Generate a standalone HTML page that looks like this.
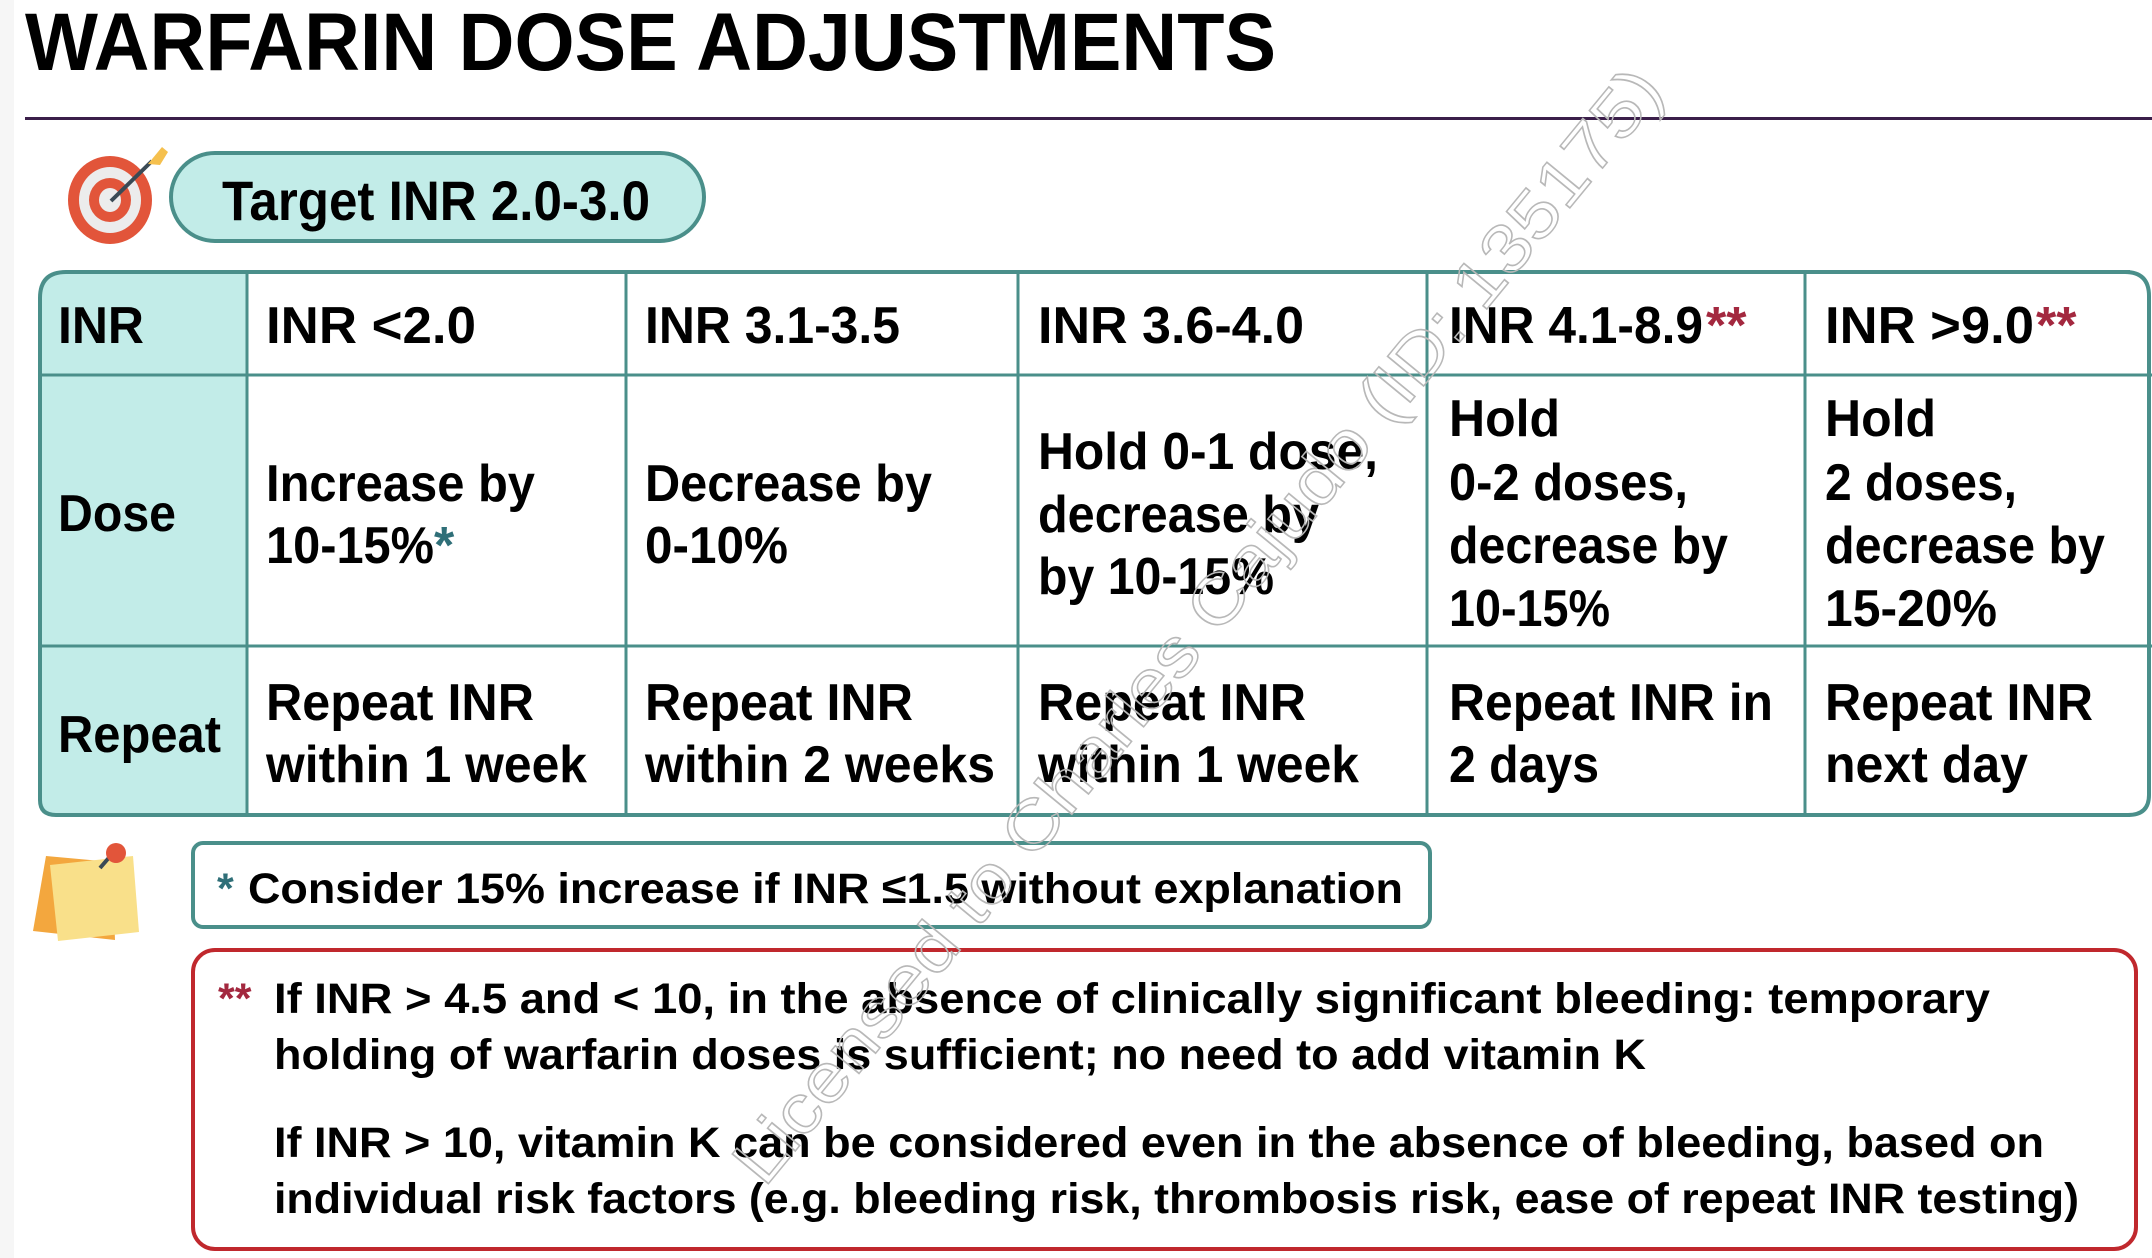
<!DOCTYPE html>
<html><head><meta charset="utf-8"><style>
html,body{margin:0;padding:0;background:#fff;}
svg{display:block;}
text{font-family:"Liberation Sans",sans-serif;font-weight:bold;fill:#000;}
</style></head><body>
<svg width="2152" height="1258" viewBox="0 0 2152 1258" xmlns="http://www.w3.org/2000/svg">
<rect width="2152" height="1258" fill="#fff"/>
<rect width="14" height="1258" fill="#f6f6f6"/>
<text x="25" y="70" font-size="82" textLength="1251" lengthAdjust="spacingAndGlyphs">WARFARIN DOSE ADJUSTMENTS</text>
<rect x="25" y="117" width="2127" height="3" fill="#3b1f4a"/>
<!-- target icon -->
<ellipse cx="110" cy="200" rx="42" ry="44" fill="#e2553a"/>
<ellipse cx="110" cy="200" rx="31" ry="33" fill="#ececec"/>
<ellipse cx="110" cy="200" rx="21" ry="22" fill="#e2553a"/>
<ellipse cx="110" cy="200" rx="11" ry="12" fill="#ececec"/>
<line x1="111" y1="201" x2="152" y2="161" stroke="#3a4a55" stroke-width="4"/>
<polygon points="148,164 162,147 168,152 160,165" fill="#f5c04e"/>
<rect x="171" y="153" width="533" height="88" rx="44" fill="#c2ece8" stroke="#4a8f8a" stroke-width="4"/>
<text x="222" y="220" font-size="56" textLength="428" lengthAdjust="spacingAndGlyphs">Target INR 2.0-3.0</text>
<!-- table -->
<path d="M247,273 L66,273 Q41,273 41,298 L41,800 Q41,815 56,815 L247,815 Z" fill="#c2ece8"/>
<path d="M2130,272 L66,272 Q40,272 40,298 L40,800 Q40,815 56,815 L2130,815" fill="none" stroke="#4a8f8a" stroke-width="4"/>
<path d="M2125,272 Q2149,272 2149,296 L2149,795 Q2149,815 2128,815" fill="none" stroke="#4a8f8a" stroke-width="4"/>
<g stroke="#4a8f8a" stroke-width="3">
<line x1="40" y1="375" x2="2152" y2="375"/>
<line x1="40" y1="646" x2="2152" y2="646"/>
<line x1="247" y1="272" x2="247" y2="815"/>
<line x1="626" y1="272" x2="626" y2="815"/>
<line x1="1018" y1="272" x2="1018" y2="815"/>
<line x1="1427" y1="272" x2="1427" y2="815"/>
<line x1="1805" y1="272" x2="1805" y2="815"/>
</g>
<g font-size="52">
<text x="58" y="343" textLength="86" lengthAdjust="spacingAndGlyphs">INR</text>
<text x="266" y="343" textLength="210" lengthAdjust="spacingAndGlyphs">INR &lt;2.0</text>
<text x="645" y="343" textLength="255" lengthAdjust="spacingAndGlyphs">INR 3.1-3.5</text>
<text x="1038" y="343" textLength="266" lengthAdjust="spacingAndGlyphs">INR 3.6-4.0</text>
<text x="1449" y="343" textLength="254" lengthAdjust="spacingAndGlyphs">INR 4.1-8.9</text>
<text x="1706" y="343" style="fill:#a3283f">**</text>
<text x="1825" y="343" textLength="209" lengthAdjust="spacingAndGlyphs">INR &gt;9.0</text>
<text x="2036" y="343" style="fill:#a3283f">**</text>

<text x="58" y="531" textLength="118" lengthAdjust="spacingAndGlyphs">Dose</text>
<text x="58" y="752" textLength="163" lengthAdjust="spacingAndGlyphs">Repeat</text>

<text x="266" y="501" textLength="269" lengthAdjust="spacingAndGlyphs">Increase by</text>
<text x="266" y="563" textLength="168" lengthAdjust="spacingAndGlyphs">10-15%</text>
<text x="434" y="563" style="fill:#2f6f78">*</text>
<text x="645" y="501" textLength="287" lengthAdjust="spacingAndGlyphs">Decrease by</text>
<text x="645" y="563" textLength="143" lengthAdjust="spacingAndGlyphs">0-10%</text>
<text x="1038" y="469" textLength="340" lengthAdjust="spacingAndGlyphs">Hold 0-1 dose,</text>
<text x="1038" y="532" textLength="281" lengthAdjust="spacingAndGlyphs">decrease by</text>
<text x="1038" y="594" textLength="236" lengthAdjust="spacingAndGlyphs">by 10-15%</text>
<text x="1449" y="436" textLength="111" lengthAdjust="spacingAndGlyphs">Hold</text>
<text x="1449" y="500" textLength="239" lengthAdjust="spacingAndGlyphs">0-2 doses,</text>
<text x="1449" y="563" textLength="279" lengthAdjust="spacingAndGlyphs">decrease by</text>
<text x="1449" y="626" textLength="161" lengthAdjust="spacingAndGlyphs">10-15%</text>
<text x="1825" y="436" textLength="111" lengthAdjust="spacingAndGlyphs">Hold</text>
<text x="1825" y="500" textLength="192" lengthAdjust="spacingAndGlyphs">2 doses,</text>
<text x="1825" y="563" textLength="280" lengthAdjust="spacingAndGlyphs">decrease by</text>
<text x="1825" y="626" textLength="172" lengthAdjust="spacingAndGlyphs">15-20%</text>

<text x="266" y="720" textLength="268" lengthAdjust="spacingAndGlyphs">Repeat INR</text>
<text x="266" y="782" textLength="321" lengthAdjust="spacingAndGlyphs">within 1 week</text>
<text x="645" y="720" textLength="268" lengthAdjust="spacingAndGlyphs">Repeat INR</text>
<text x="645" y="782" textLength="350" lengthAdjust="spacingAndGlyphs">within 2 weeks</text>
<text x="1038" y="720" textLength="268" lengthAdjust="spacingAndGlyphs">Repeat INR</text>
<text x="1038" y="782" textLength="321" lengthAdjust="spacingAndGlyphs">within 1 week</text>
<text x="1449" y="720" textLength="324" lengthAdjust="spacingAndGlyphs">Repeat INR in</text>
<text x="1449" y="782" textLength="150" lengthAdjust="spacingAndGlyphs">2 days</text>
<text x="1825" y="720" textLength="268" lengthAdjust="spacingAndGlyphs">Repeat INR</text>
<text x="1825" y="782" textLength="203" lengthAdjust="spacingAndGlyphs">next day</text>
</g>
<!-- sticky note -->
<polygon points="46,856 112,862 115,940 33,931" fill="#f3a73e"/>
<polygon points="50,865 133,856 139,932 58,941" fill="#f9e08a"/>
<line x1="100" y1="868" x2="113" y2="853" stroke="#3a4a55" stroke-width="4"/>
<circle cx="116" cy="853" r="10" fill="#e2553a"/>
<!-- note boxes -->
<rect x="193" y="843" width="1237" height="84" rx="10" fill="#fff" stroke="#4a8f8a" stroke-width="4"/>
<g font-size="43">
<text x="217" y="903" style="fill:#2f6f78">*</text>
<text x="248" y="903" textLength="1155" lengthAdjust="spacingAndGlyphs">Consider 15% increase if INR ≤1.5 without explanation</text>
</g>
<rect x="193" y="950" width="1943" height="299" rx="22" fill="none" stroke="#c0282d" stroke-width="4"/>
<g font-size="43">
<text x="218" y="1013" style="fill:#a3283f">**</text>
<text x="274" y="1013" textLength="1716" lengthAdjust="spacingAndGlyphs">If INR &gt; 4.5 and &lt; 10, in the absence of clinically significant bleeding: temporary</text>
<text x="274" y="1069" textLength="1372" lengthAdjust="spacingAndGlyphs">holding of warfarin doses is sufficient; no need to add vitamin K</text>
<text x="274" y="1157" textLength="1770" lengthAdjust="spacingAndGlyphs">If INR &gt; 10, vitamin K can be considered even in the absence of bleeding, based on</text>
<text x="274" y="1213" textLength="1805" lengthAdjust="spacingAndGlyphs">individual risk factors (e.g. bleeding risk, thrombosis risk, ease of repeat INR testing)</text>
</g>
<!-- watermark -->
<text x="0" y="0" font-size="68" text-anchor="middle" transform="translate(1215,640) rotate(-50.6)" style="fill:none;stroke:#b8b8b8;stroke-width:1.5;font-weight:normal" textLength="1420" lengthAdjust="spacingAndGlyphs">Licensed to Charles Cajudo (ID: 135175)</text>
</svg>
</body></html>
